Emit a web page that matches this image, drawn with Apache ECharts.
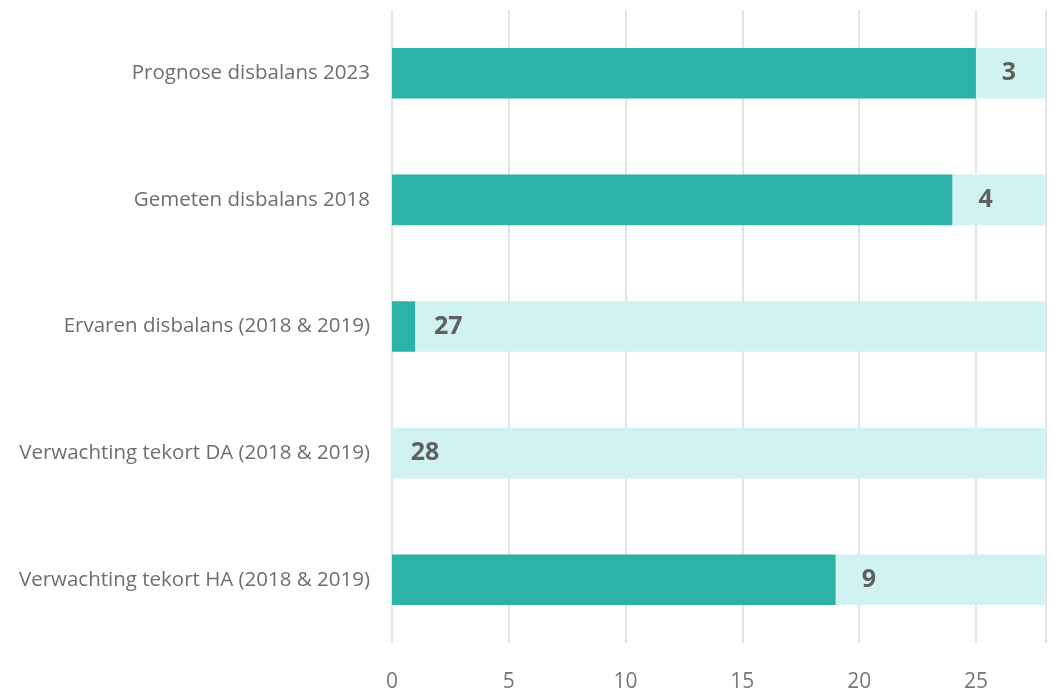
<!DOCTYPE html>
<html>
<head>
<meta charset="utf-8">
<script src="https://cdn.jsdelivr.net/npm/echarts@6/dist/echarts.min.js"></script>
<style>html,body{margin:0;padding:0;background:#fff;}#c{width:1053px;height:693px;}</style>
</head>
<body>
<div id="c"></div>
<script>
var categories = ['Prognose disbalans 2023','Gemeten disbalans 2018','Ervaren disbalans (2018 & 2019)','Verwachting tekort DA (2018 & 2019)','Verwachting tekort HA (2018 & 2019)'];
var darkValues = [25, 24, 1, 0, 19];
var lightValues = [3, 4, 27, 28, 9];
var xTicks = [0, 5, 10, 15, 20, 25];

var chart = echarts.init(document.getElementById('c'));
chart.setOption({
  animation: false,
  grid: {left: 392, right: 7, top: 10, bottom: 44, containLabel: false},
  xAxis: {
    type: 'value', min: 0, max: 28, interval: 5,
    axisLine: {show: false}, axisTick: {show: false},
    splitLine: {show: true, lineStyle: {color: '#e3e3e3', width: 2}},
    axisLabel: {color: '#777', fontSize: 21, fontFamily: 'Open Sans', margin: 29,
      formatter: function(v){ return xTicks.indexOf(v) >= 0 ? String(v) : ''; }}
  },
  yAxis: {
    type: 'category', data: categories, inverse: true,
    axisLine: {show: false}, axisTick: {show: false},
    axisLabel: {color: '#6e6e6e', fontSize: 20.5, fontFamily: 'Open Sans', margin: 22}
  },
  series: [
    {type: 'bar', stack: 's', data: darkValues, barWidth: '40%',
     itemStyle: {color: '#2bb3a8'}},
    {type: 'bar', stack: 's', data: lightValues, barWidth: '40%',
     itemStyle: {color: '#d0f3f1'},
     label: {show: true, position: [33, '50%'], align: 'center', verticalAlign: 'middle',
       color: '#606060', fontSize: 25, fontWeight: 'bold', fontFamily: 'Open Sans'}}
  ]
});
</script>
</body>
</html>
